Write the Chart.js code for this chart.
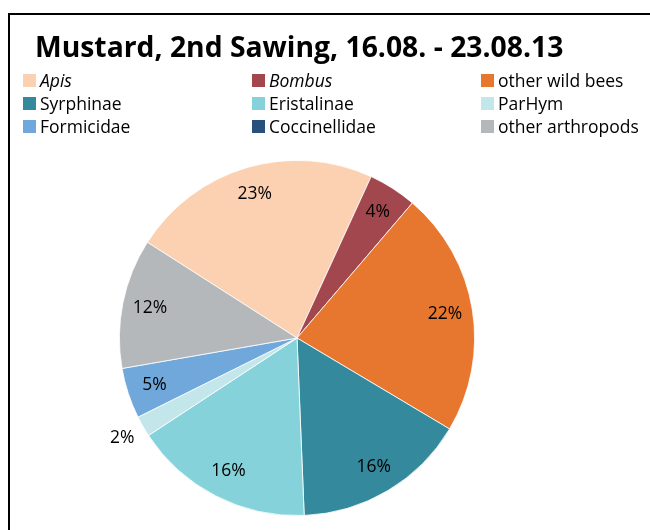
<!DOCTYPE html>
<html>
<head>
<meta charset="utf-8">
<title>Mustard, 2nd Sawing</title>
<script src="https://cdn.jsdelivr.net/npm/chart.js@4/dist/chart.umd.min.js"></script>
<style>
  html, body { margin: 0; padding: 0; background: #fff; }
  #wrap { position: relative; width: 650px; height: 530px; }
  #frame {
    position: absolute; left: 8px; top: 13px; right: 0; bottom: 0;
    border-left: 2px solid #000; border-top: 2px solid #000;
  }
  canvas { position: absolute; left: 0; top: 0; }
</style>
</head>
<body>
<div id="wrap">
  <div id="frame"></div>
  <canvas id="pie" width="650" height="530"></canvas>
</div>
<script>
// Share of flower visitors per group (percent)
const groups = ['Apis', 'Bombus', 'other wild bees', 'Syrphinae', 'Eristalinae',
                'ParHym', 'Formicidae', 'Coccinellidae', 'other arthropods'];
const shares = [22.8, 4.4, 22.3, 15.8, 16.4, 1.9, 4.6, 0, 11.8];
const colors = ['#FBD1B2', '#A2474E', '#E7772F', '#348A9C', '#86D2DA',
                '#C3E6EA', '#70A8DB', '#27507B', '#B5B8BB'];
const italicGroups = ['Apis', 'Bombus'];

const titleText = 'Mustard, 2nd Sawing, 16.08. - 23.08.13';
const FONT = '"Open Sans", "Noto Sans", sans-serif';

// Percent labels inside each slice; very thin slices get theirs outside the pie
const sliceLabels = {
  id: 'sliceLabels',
  afterDatasetsDraw(chart) {
    const ctx = chart.ctx;
    const arcs = chart.getDatasetMeta(0).data;
    ctx.save();
    ctx.font = '17.5px ' + FONT;
    ctx.fillStyle = '#000';
    ctx.textAlign = 'center';
    ctx.textBaseline = 'middle';
    arcs.forEach((arc, i) => {
      const v = shares[i];
      if (!v) return;
      const p = arc.getProps(['x', 'y', 'startAngle', 'endAngle', 'outerRadius'], true);
      const mid = (p.startAngle + p.endAngle) / 2;
      const r = v < 3 ? p.outerRadius + 24 : p.outerRadius * 0.845;
      ctx.fillText(Math.round(v) + '%', p.x + Math.cos(mid) * r, p.y + Math.sin(mid) * r);
    });
    ctx.restore();
  },
};

// Title and three-column legend at the top of the card
const header = {
  id: 'header',
  afterDraw(chart) {
    const ctx = chart.ctx;
    ctx.save();
    ctx.fillStyle = '#000';
    ctx.textBaseline = 'alphabetic';
    ctx.font = 'bold 28.3px ' + FONT;
    ctx.fillText(titleText, 35, 57);

    const colX = [23, 252, 481];
    const rowY = [87, 110, 133];
    groups.forEach((g, i) => {
      const x = colX[i % 3];
      const y = rowY[Math.floor(i / 3)];
      ctx.fillStyle = colors[i];
      ctx.fillRect(x, y - 13, 13, 13);
      ctx.fillStyle = '#000';
      ctx.font = (italicGroups.includes(g) ? 'italic ' : '') + '17.5px ' + FONT;
      ctx.fillText(g, x + 17, y - 0.5);
    });
    ctx.restore();
  },
};

new Chart(document.getElementById('pie'), {
  type: 'pie',
  plugins: [sliceLabels, header],
  data: {
    labels: groups,
    datasets: [{
      data: shares,
      backgroundColor: colors,
      borderColor: '#ffffff',
      borderWidth: 0.8,
    }],
  },
  options: {
    responsive: false,
    animation: false,
    rotation: -57.4,
    layout: { padding: { left: 119, right: 175, top: 160, bottom: 14 } },
    plugins: {
      legend: { display: false },
      tooltip: { enabled: false },
    },
  },
});
</script>
</body>
</html>
